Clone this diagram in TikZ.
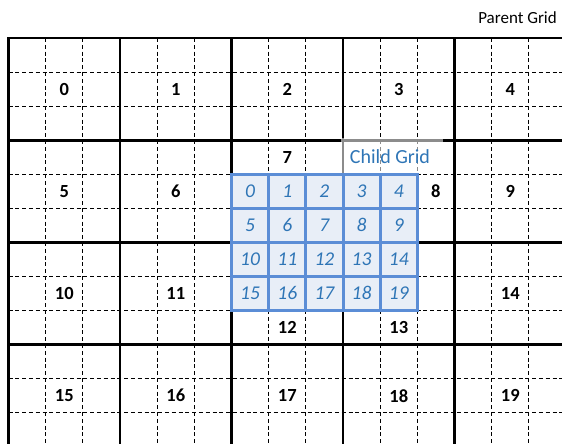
\documentclass[tikz,border=0pt]{standalone}
\usepackage{fontspec}
\setmainfont{Carlito}
\usetikzlibrary{positioning}
\definecolor{childline}{RGB}{91,141,214}
\definecolor{childfill}{RGB}{232,238,247}
\definecolor{childtext}{RGB}{46,117,182}
\tikzset{
  thickline/.style={line width=2.6pt, black, line cap=rect},
  subline/.style={line width=1.1pt, black, dash pattern=on 4pt off 2.8pt},
  parentlbl/.style={font=\fontsize{18.5}{22}\selectfont\bfseries, inner sep=0pt},
  childlbl/.style={font=\fontsize{19.5}{23}\selectfont\itshape, text=childtext, inner sep=0pt},
  titlelbl/.style={font=\fontsize{17}{20}\selectfont, inner sep=0pt},
}

\begin{document}
\begin{tikzpicture}[x=1pt, y=-1pt]
  \useasboundingbox (0,0) rectangle (562,444);
  \clip (0,0) rectangle (562,444);
  % parent grid: 5 x 4 cells, each split in thirds
  \def\cw{111.5} \def\ch{102.2} \def\xo{8.5} \def\yo{38}
  \foreach \i in {1,...,15}
    \draw[subline] ({\xo+\i*\cw/3},\yo) -- ({\xo+\i*\cw/3},450);
  \foreach \j in {1,...,11}
    \draw[subline] (\xo,{\yo+\j*\ch/3}) -- (570,{\yo+\j*\ch/3});
  \foreach \i in {0,...,5}
    \draw[thickline] ({\xo+\i*\cw},\yo) -- ({\xo+\i*\cw},450);
  \foreach \j in {0,...,4}
    \draw[thickline] (\xo,{\yo+\j*\ch}) -- (570,{\yo+\j*\ch});

  % label box of the child grid
  \fill[white, opacity=0.55] (340.5,138) rectangle (443,172.5);

  % child grid on top
  \def\cx{231.5} \def\cy{174.1}
  \fill[childfill] (\cx,\cy) rectangle ({\cx+5*\cw/3},{\cy+4*\ch/3});
  \foreach \i in {0,...,5}
    \draw[childline, line width=3pt, line cap=rect] ({\cx+\i*\cw/3},\cy) -- ({\cx+\i*\cw/3},{\cy+4*\ch/3});
  \foreach \j in {0,...,4}
    \draw[childline, line width=3pt, line cap=rect] (\cx,{\cy+\j*\ch/3}) -- ({\cx+5*\cw/3},{\cy+\j*\ch/3});
  \foreach \k in {0,...,19}{
    \pgfmathtruncatemacro\kc{mod(\k,5)}
    \pgfmathtruncatemacro\kr{int(\k/5)}
    \node[childlbl] (c\k) at ({\cx+(\kc+0.5)*\cw/3},{\cy+(\kr+0.5)*\ch/3}) {\k};
  }

  % parent cell numbers (7, 8, 12, 13 moved off the child grid)
  \foreach \n/\c/\r/\dx/\dy in {0/0/0/0/0, 1/1/0/0/0, 2/2/0/0/0, 3/3/0/0/0, 4/4/0/0/0,
      5/0/1/0/0, 6/1/1/0/0, 7/2/1/0/-1, 8/3/1/1/0, 9/4/1/0/0,
      10/0/2/0/0, 11/1/2/0/0, 12/2/2/0/1, 13/3/2/0/1, 14/4/2/0/0,
      15/0/3/0/0, 16/1/3/0/0, 17/2/3/0/0, 18/3/3/0/0, 19/4/3/0/0}
    \node[parentlbl] (p\n) at ({\xo+(\c+0.5+\dx/3)*\cw},{\yo+(\r+0.5+\dy/3)*\ch}) {\n};

  \node[titlelbl, font=\fontsize{20}{24}\selectfont, text=childtext, anchor=base] (childtitle) at (390,163) {Child Grid};
  \node[titlelbl, anchor=base east] (parenttitle) at (557,24) {Parent Grid};
\end{tikzpicture}
\end{document}
